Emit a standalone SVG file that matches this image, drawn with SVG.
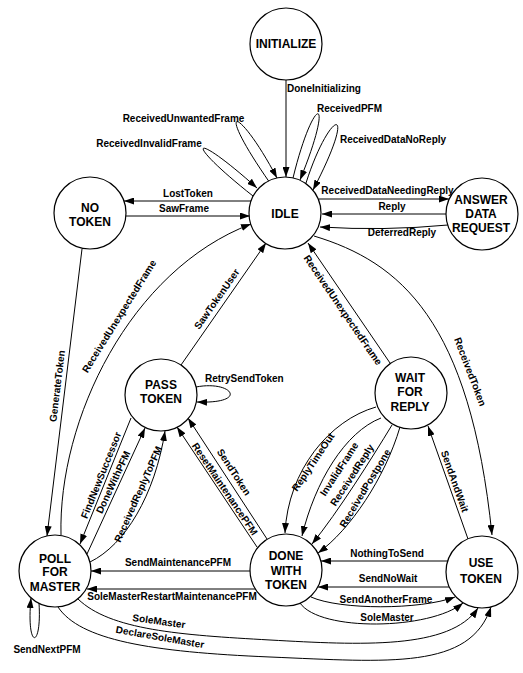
<svg xmlns="http://www.w3.org/2000/svg" width="523" height="673" viewBox="0 0 523 673">
<defs>
<marker id="ah" markerUnits="userSpaceOnUse" markerWidth="10" markerHeight="7" refX="10" refY="3.5" orient="auto">
<path d="M0,0 L10,3.5 L0,7 z" fill="#000"/>
</marker>
<style>
.n{fill:#fff;stroke:#000;stroke-width:1.2}
.nl{font-family:"Liberation Sans",Arial,sans-serif;font-weight:bold;font-size:12px;text-anchor:middle;fill:#000}
.e{fill:none;stroke:#000;stroke-width:1;marker-end:url(#ah)}
.el{font-family:"Liberation Sans",Arial,sans-serif;font-weight:bold;font-size:10px;fill:#000}
.m{text-anchor:middle}
</style>
</defs>
<rect width="523" height="673" fill="#fff"/>
<g id="connectors">
<path class="e" d="M286,80 L286,177"/>
<path class="e" d="M270,183 C212,100 238,104 277,178"/>
<path class="e" d="M253,196 C182,140 190,128 257,188"/>
<path class="e" d="M293,178 C314,92 336,92 300,180"/>
<path class="e" d="M306,183 C330,108 360,100 313,190"/>
<path class="e" d="M252,201 L124,201"/>
<path class="e" d="M126,216 L250,216"/>
<path class="e" d="M319,199 L449,199"/>
<path class="e" d="M446,214 L322,214"/>
<path class="e" d="M448,225 Q384,231 320,227"/>
<path class="e" d="M314,236 C400,262 470,320 492,535"/>
<path class="e" d="M390,363 L308,243"/>
<path class="e" d="M181,365 L266,243"/>
<path class="e" d="M61,535 C58,420 130,270 251,224"/>
<path class="e" d="M82,249 L47,536"/>
<path class="e" d="M196,387 C232,380 250,404 197,402"/>
<path class="e" d="M131,418 L80,544"/>
<path class="e" d="M87,554 L145,428"/>
<path class="e" d="M90,562 C125,545 155,495 165,431"/>
<path class="e" d="M267,539 L188,418"/>
<path class="e" d="M257,547 L177,427"/>
<path class="e" d="M376,407 C330,420 288,470 285,533"/>
<path class="e" d="M381,418 C345,432 315,482 302,536"/>
<path class="e" d="M392,425 C372,458 338,512 312,544"/>
<path class="e" d="M400,427 C385,478 350,530 318,553"/>
<path class="e" d="M468,539 L428,426"/>
<path class="e" d="M448,561 L321,561"/>
<path class="e" d="M449,587 L318,587"/>
<path class="e" d="M311,597 C340,610 420,610 455,597"/>
<path class="e" d="M300,603 C320,632 430,630 463,603"/>
<path class="e" d="M250,571 L91,571"/>
<path class="e" d="M255,589 L87,589"/>
<path class="e" d="M78,599 C110,630 180,635 270,640 S450,650 478,608"/>
<path class="e" d="M58,607 C80,640 150,652 270,657 S470,670 491,607"/>
<path class="e" d="M39,603 C42,650 26,650 31,598"/>
<text class="el" x="287" y="92">DoneInitializing</text>
<text class="el m" x="183.5" y="122">ReceivedUnwantedFrame</text>
<text class="el m" x="149" y="147">ReceivedInvalidFrame</text>
<text class="el m" x="349.5" y="112">ReceivedPFM</text>
<text class="el m" x="393" y="143">ReceivedDataNoReply</text>
<text class="el m" x="188" y="197">LostToken</text>
<text class="el m" x="184" y="212">SawFrame</text>
<text class="el m" x="387.5" y="194">ReceivedDataNeedingReply</text>
<text class="el m" x="392" y="210">Reply</text>
<text class="el m" x="402" y="236">DeferredReply</text>
<text class="el m" transform="translate(467,373) rotate(69)">ReceivedToken</text>
<text class="el m" transform="translate(340,312) rotate(55.7)">ReceivedUnexpectedFrame</text>
<text class="el m" transform="translate(219.6,301) rotate(-55)">SawTokenUser</text>
<text class="el m" transform="translate(122,318) rotate(-58)">ReceivedUnexpectedFrame</text>
<text class="el m" transform="translate(60.6,386.4) rotate(-83)">GenerateToken</text>
<text class="el" x="205" y="382">RetrySendToken</text>
<text class="el m" transform="translate(104.3,476.4) rotate(-68)">FindNewSuccessor</text>
<text class="el m" transform="translate(116.3,483.5) rotate(-65)">DoneWithPFM</text>
<text class="el m" transform="translate(141.3,495.5) rotate(-66)">ReceivedReplyToPFM</text>
<text class="el m" transform="translate(231,474) rotate(57)">SendToken</text>
<text class="el m" transform="translate(222,491) rotate(56)">ResetMaintenancePFM</text>
<text class="el m" transform="translate(316,464) rotate(-56)">ReplyTimeOut</text>
<text class="el m" transform="translate(342,471) rotate(-57)">InvalidFrame</text>
<text class="el m" transform="translate(355,477) rotate(-57)">ReceivedReply</text>
<text class="el m" transform="translate(368,490) rotate(-59)">ReceivedPostpone</text>
<text class="el m" transform="translate(451.5,482.5) rotate(70.5)">SendAndWait</text>
<text class="el m" x="387" y="557">NothingToSend</text>
<text class="el m" x="388" y="582">SendNoWait</text>
<text class="el m" x="386" y="603">SendAnotherFrame</text>
<text class="el m" x="387" y="621">SoleMaster</text>
<text class="el m" x="178" y="566">SendMaintenancePFM</text>
<text class="el m" x="172" y="600">SoleMasterRestartMaintenancePFM</text>
<text class="el m" transform="translate(158.5,624.6) rotate(8)">SoleMaster</text>
<text class="el m" transform="translate(159.4,640.5) rotate(10)">DeclareSoleMaster</text>
<text class="el m" x="47" y="653">SendNextPFM</text>
</g>
<g id="INITIALIZE"><circle class="n" cx="286" cy="44" r="36"/><text class="nl" x="286" y="48">INITIALIZE</text></g>
<g id="IDLE"><circle class="n" cx="285" cy="213" r="36"/><text class="nl" x="285" y="218">IDLE</text></g>
<g id="NO_TOKEN"><circle class="n" cx="90" cy="213" r="36"/><text class="nl" x="90" y="211.5">NO</text><text class="nl" x="90" y="225.5">TOKEN</text></g>
<g id="ANSWER_DATA_REQUEST"><circle class="n" cx="482" cy="214" r="36"/><text class="nl" x="481" y="204.3">ANSWER</text><text class="nl" x="481" y="218.3">DATA</text><text class="nl" x="481" y="232.3">REQUEST</text></g>
<g id="PASS_TOKEN"><circle class="n" cx="161" cy="395" r="36"/><text class="nl" x="161" y="389.3">PASS</text><text class="nl" x="161" y="403.3">TOKEN</text></g>
<g id="WAIT_FOR_REPLY"><circle class="n" cx="411" cy="393" r="36"/><text class="nl" x="410" y="382">WAIT</text><text class="nl" x="410" y="396">FOR</text><text class="nl" x="410" y="411">REPLY</text></g>
<g id="POLL_FOR_MASTER"><circle class="n" cx="55" cy="571" r="36"/><text class="nl" x="55" y="562.6">POLL</text><text class="nl" x="55" y="576">FOR</text><text class="nl" x="55" y="591">MASTER</text></g>
<g id="DONE_WITH_TOKEN"><circle class="n" cx="286" cy="570" r="36"/><text class="nl" x="286" y="560.3">DONE</text><text class="nl" x="286" y="575">WITH</text><text class="nl" x="286" y="588.6">TOKEN</text></g>
<g id="USE_TOKEN"><circle class="n" cx="482" cy="572" r="36"/><text class="nl" x="481" y="567">USE</text><text class="nl" x="481" y="582.6">TOKEN</text></g>
</svg>
